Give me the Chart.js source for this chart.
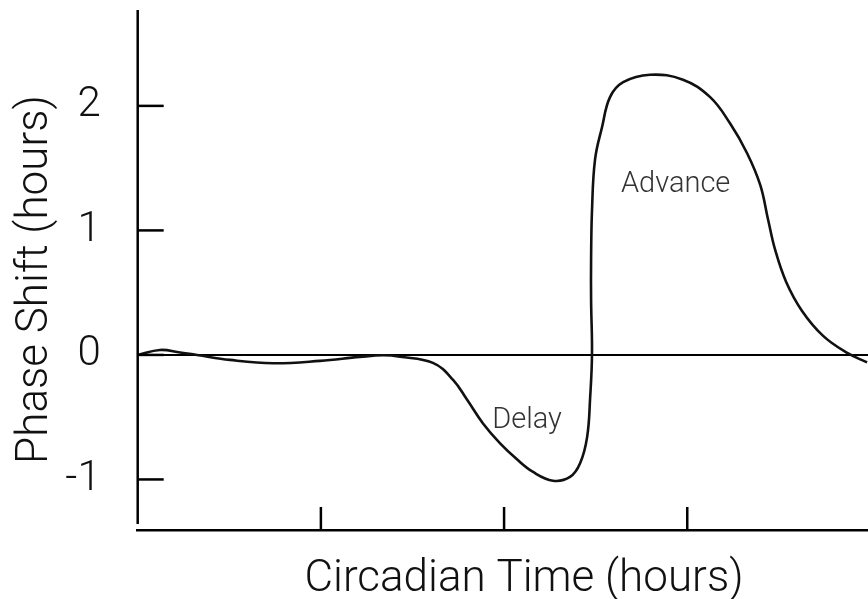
<!DOCTYPE html>
<html>
<head>
<meta charset="utf-8">
<script src="https://cdn.jsdelivr.net/npm/chart.js@4/dist/chart.umd.min.js"></script>
<style>
  html, body { margin: 0; padding: 0; background: #fff; }
  #wrap { width: 868px; height: 599px; }
</style>
</head>
<body>
<div id="wrap"><canvas id="prc"></canvas></div>
<script>
// 概日時刻 (hours) と位相シフト (hours) : 曲線は途中で折り返すので x,y の順番どおりに結ぶ
const circadianTime = [0, 0.73, 1.39, 1.94, 3.02, 4.43, 5.97, 7.28, 8.04, 8.59, 9.67, 10.33, 10.79, 11.31, 11.87, 12.43, 12.95, 13.6, 14.16, 14.49, 14.72, 14.82, 14.88, 14.85, 14.85, 14.88, 14.98, 15.21, 15.47, 15.9, 16.78, 17.86, 18.75, 19.4, 19.96, 20.39, 20.65, 20.88, 21.24, 21.76, 22.45, 23.24, 23.89];
const phaseShift    = [0, 0.04, 0.02, 0, -0.04, -0.067, -0.048, -0.016, -0.003, -0.014, -0.064, -0.2, -0.36, -0.55, -0.71, -0.84, -0.94, -1.01, -0.98, -0.87, -0.66, -0.34, 0.01, 0.44, 0.76, 1.16, 1.57, 1.83, 2.07, 2.19, 2.25, 2.21, 2.07, 1.86, 1.62, 1.365, 1.084, 0.843, 0.586, 0.353, 0.153, 0.016, -0.06];

const yTicks = [-1, 0, 1, 2];
const xTicks = [6, 12, 18];

// 注記
const noteText  = ['Delay', 'Advance'];
const noteTime  = [12.75, 17.62];
const noteShift = [-0.586, 1.309];

const yTitle = 'Phase Shift (hours)';
const xTitle = 'Circadian Time (hours)';

const FONT = '"Roboto", "Liberation Sans", sans-serif';

// 軸線・内向きの目盛り・タイトル・注記を描く
const axisPlugin = {
  id: 'axisPlugin',
  afterDatasetsDraw(chart) {
    const ctx = chart.ctx;
    const area = chart.chartArea;
    const xs = chart.scales.x;
    const ys = chart.scales.y;
    ctx.save();
    ctx.strokeStyle = '#000';
    ctx.lineWidth = 2.5;
    ctx.beginPath();
    ctx.moveTo(area.left, area.top);
    ctx.lineTo(area.left, area.bottom - 6);
    ctx.stroke();

    yTicks.forEach(v => {
      const py = ys.getPixelForValue(v);
      ctx.beginPath();
      ctx.moveTo(area.left, py);
      ctx.lineTo(area.left + 26, py);
      ctx.stroke();
    });
    xTicks.forEach(v => {
      const px = xs.getPixelForValue(v);
      ctx.beginPath();
      ctx.moveTo(px, area.bottom);
      ctx.lineTo(px, area.bottom - 23);
      ctx.stroke();
    });

    // 注記テキスト
    ctx.fillStyle = '#333';
    ctx.font = '300 29px ' + FONT;
    ctx.textAlign = 'center';
    ctx.textBaseline = 'alphabetic';
    noteText.forEach((t, i) => {
      ctx.fillText(t, xs.getPixelForValue(noteTime[i]), ys.getPixelForValue(noteShift[i]));
    });

    // 軸タイトル
    ctx.fillStyle = '#111';
    ctx.font = '300 44px ' + FONT;
    ctx.fillText(xTitle, 524, 591);
    ctx.translate(47, 279.5);
    ctx.rotate(-Math.PI / 2);
    ctx.fillText(yTitle, 0, 0);
    ctx.restore();
  }
};

const ctx = document.getElementById('prc').getContext('2d');
const chart = new Chart(ctx, {
  type: 'scatter',
  data: {
    datasets: [{
      data: circadianTime.map((t, i) => ({ x: t, y: phaseShift[i] })),
      showLine: true,
      borderColor: '#111',
      borderWidth: 2.6,
      pointRadius: 0,
      tension: 0.4,
      fill: false
    }]
  },
  options: {
    responsive: true,
    maintainAspectRatio: false,
    devicePixelRatio: 1,
    animation: false,
    layout: { padding: { top: 10, right: 0, left: 0, bottom: 0 } },
    scales: {
      x: {
        type: 'linear',
        min: 0,
        max: 23.92,
        afterBuildTicks: s => { s.ticks = xTicks.map(v => ({ value: v })); },
        ticks: { display: false },
        grid: { display: false, drawTicks: false },
        border: { display: true, color: '#000', width: 2.5 },
        afterFit: s => {
          s.height = 69;
          s.paddingLeft = 0; s.paddingRight = 0; s.paddingTop = 0; s.paddingBottom = 0;
        }
      },
      y: {
        min: -1.406,
        max: 2.77,
        afterBuildTicks: s => { s.ticks = yTicks.map(v => ({ value: v })); },
        ticks: { font: { family: FONT, size: 42, weight: '300' }, color: '#111', padding: 37 },
        grid: {
          drawTicks: false,
          color: c => (c.tick && c.tick.value === 0) ? '#000' : 'rgba(0,0,0,0)',
          lineWidth: 2
        },
        border: { display: false },
        afterFit: s => {
          s.width = 137.7;
          s.paddingLeft = 0; s.paddingRight = 0; s.paddingTop = 0; s.paddingBottom = 0;
        }
      }
    },
    plugins: {
      legend: { display: false },
      tooltip: { enabled: false }
    }
  },
  plugins: [axisPlugin]
});
</script>
</body>
</html>
